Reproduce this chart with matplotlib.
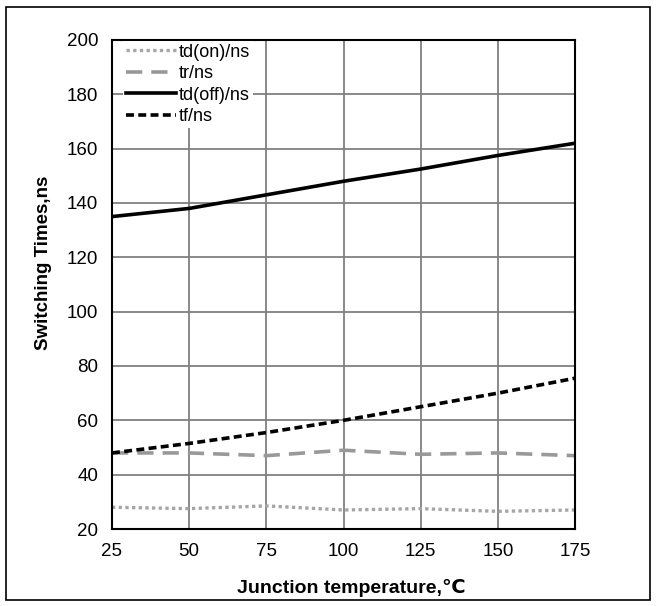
import matplotlib.pyplot as plt
from matplotlib.patches import Rectangle

plt.rcParams['font.family'] = ['Liberation Sans', 'DejaVu Sans']

# --- Data ---
temps = [25, 50, 75, 100, 125, 150, 175]
td_on = [28, 27.5, 28.5, 27, 27.5, 26.5, 27]
tr = [48, 48, 47, 49, 47.5, 48, 47]
td_off = [135, 138, 143, 148, 152.5, 157.5, 162]
tf = [48, 51.5, 55.5, 60, 65, 70, 75.5]

fig = plt.figure(figsize=(6.58, 6.06), dpi=100)
ax = fig.add_axes([112 / 658, 1 - 529 / 606, 463 / 658, 489 / 606])

# outer frame around the whole picture
fig.patches.append(Rectangle((6 / 658, 1 - 600 / 606), 644 / 658, 593 / 606,
                             transform=fig.transFigure, fill=False,
                             edgecolor='black', linewidth=1.2))

ax.plot(temps, td_on, color='#a6a6a6', linestyle=(0, (1, 1)), linewidth=2.4, label='td(on)/ns')
ax.plot(temps, tr, color='#999999', linestyle=(0, (4.5, 2.5)), linewidth=2.6, label='tr/ns')
ax.plot(temps, td_off, color='black', linestyle='-', linewidth=2.6, label='td(off)/ns')
ax.plot(temps, tf, color='black', linestyle=(0, (2.2, 1.2)), linewidth=2.6, label='tf/ns')

ax.set_xlim(25, 175)
ax.set_ylim(20, 200)
ax.set_xticks(range(25, 176, 25))
ax.set_yticks(range(20, 201, 20))
ax.grid(True, color='#808080', linewidth=1.3)
ax.set_axisbelow(True)
for s in ax.spines.values():
    s.set_linewidth(1.5)
ax.tick_params(length=0, labelsize=13.5, pad=10)

ax.set_xlabel('Junction temperature,\u2103', fontsize=14, fontweight='bold')
ax.xaxis.set_label_coords((351 - 112) / 463, -(579 - 529) / 489)
ax.set_ylabel('Switching Times,ns', fontsize=13.5, fontweight='bold')
ax.yaxis.set_label_coords((52 - 112) / 463, (529 - 263) / 489)

leg = ax.legend(loc='upper left', bbox_to_anchor=((123 - 112) / 463, 1 - (41 - 40) / 489),
                fontsize=13, frameon=True, fancybox=False,
                framealpha=1, edgecolor='none', handlelength=2.8, handletextpad=0.15,
                labelspacing=0.25, borderpad=0.15, borderaxespad=0)

fig.savefig('out.png', dpi=100)
